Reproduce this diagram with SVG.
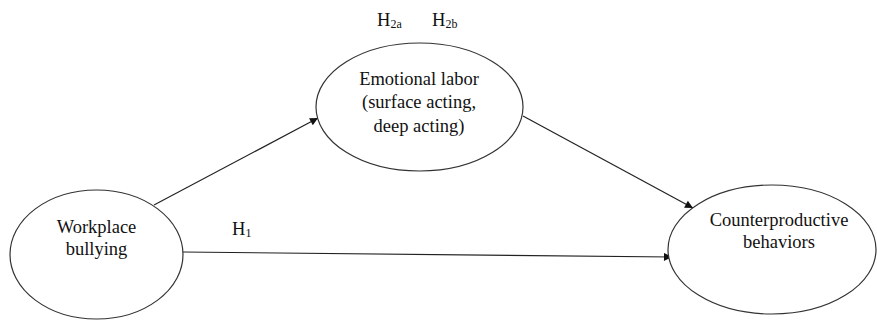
<svg xmlns="http://www.w3.org/2000/svg" width="877" height="320" viewBox="0 0 877 320">
<style>
.node{fill:#fff;stroke:#333;stroke-width:1.2}
.t{font-family:"Liberation Serif","Times New Roman",serif;font-size:18.5px;fill:#111;text-anchor:middle}
.h{font-family:"Liberation Serif","Times New Roman",serif;font-size:18.5px;fill:#111}
.sub{font-size:12px}
.c{stroke:#222;stroke-width:1.2;fill:none;marker-end:url(#ah)}
</style>
<defs>
<marker id="ah" viewBox="0 0 10 10" refX="10" refY="5" markerWidth="10" markerHeight="8" markerUnits="userSpaceOnUse" orient="auto">
<path d="M0,0 L10,5 L0,10 z" fill="#111"/>
</marker>
</defs>
<rect width="877" height="320" fill="#fff"/>
<g id="connectors">
<line class="c" x1="154" y1="205" x2="318" y2="118"/>
<line class="c" x1="523" y1="116" x2="693" y2="208"/>
<line class="c" x1="183" y1="252" x2="672" y2="257"/>
</g>
<g id="emotional-labor">
<ellipse class="node" cx="419.5" cy="107" rx="103.5" ry="64"/>
<text class="t" x="419" y="85">Emotional labor</text>
<text class="t" x="419" y="108">(surface acting,</text>
<text class="t" x="419" y="132">deep acting)</text>
</g>
<g id="workplace-bullying">
<ellipse class="node" cx="96.5" cy="254.5" rx="86.5" ry="64.5"/>
<text class="t" x="96.5" y="233">Workplace</text>
<text class="t" x="96.5" y="255">bullying</text>
</g>
<g id="counterproductive-behaviors">
<ellipse class="node" cx="772" cy="249.5" rx="104" ry="64.5"/>
<text class="t" x="779" y="226">Counterproductive</text>
<text class="t" x="779" y="248">behaviors</text>
</g>
<g id="labels">
<text class="h" x="377" y="26">H<tspan class="sub" dy="1.5">2a</tspan></text>
<text class="h" x="432" y="26">H<tspan class="sub" dy="1.5">2b</tspan></text>
<text class="h" x="232" y="235">H<tspan class="sub" dy="1.5">1</tspan></text>
</g>
</svg>
